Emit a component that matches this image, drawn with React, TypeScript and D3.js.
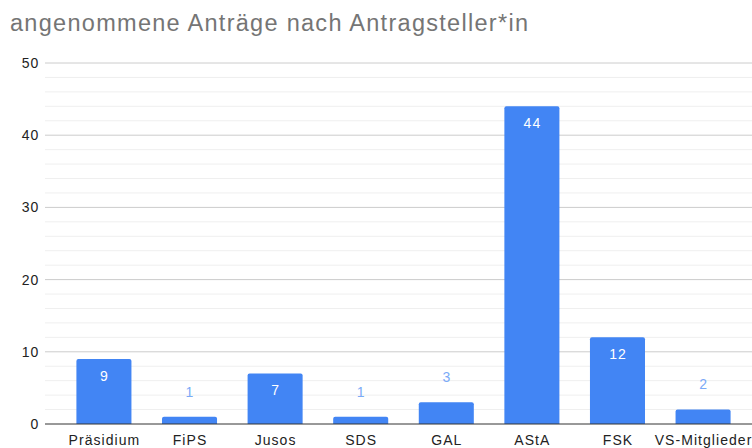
import React from 'react';
import * as d3 from 'd3';

const categories = ['Präsidium', 'FiPS', 'Jusos', 'SDS', 'GAL', 'AStA', 'FSK', 'VS-Mitglieder'];
const values = [9, 1, 7, 1, 3, 44, 12, 2];
const majorTicks = [0, 10, 20, 30, 40, 50];
const minorTicks = d3.range(0, 51, 2);

const W = 752;
const H = 448;
const FONT = '"Liberation Sans", Arial, sans-serif';

export default function App() {
  const x = d3.scaleBand<string>().domain(categories).range([61, 746]).paddingInner(0.357).paddingOuter(0.18);
  const y = d3.scaleLinear().domain([0, 50]).range([424, 63]);
  const gridLeft = 45;

  return (
    <svg width={W} height={H} style={{ position: 'absolute', left: 0, top: 0, background: '#fff' }}>
      <text x={10} y={31} fontFamily={FONT} fontSize={23.5} fill="#757575" textLength={518} lengthAdjust="spacing">
        angenommene Anträge nach Antragsteller*in
      </text>

      {minorTicks.filter((t) => t % 10 !== 0).map((t) => (
        <line key={'m' + t} x1={gridLeft} x2={W} y1={y(t)} y2={y(t)} stroke="#efefef" strokeWidth={1} />
      ))}
      {majorTicks.filter((t) => t !== 0).map((t) => (
        <line key={'M' + t} x1={gridLeft} x2={W} y1={y(t)} y2={y(t)} stroke="#cccccc" strokeWidth={1} />
      ))}
      {majorTicks.map((t) => (
        <text key={'l' + t} x={39} y={y(t)} dy="0.35em" textAnchor="end" fontFamily={FONT} fontSize={14} letterSpacing={0.8} fill="#222">
          {t}
        </text>
      ))}

      {categories.map((c, i) => {
        const v = values[i];
        const bx = x(c)!;
        const bw = x.bandwidth();
        const top = y(v);
        const h = y(0) - top;
        const inside = h > 30;
        return (
          <g key={c}>
            <path
              d={`M${bx},${y(0)} V${top + 2} Q${bx},${top} ${bx + 2},${top} H${bx + bw - 2} Q${bx + bw},${top} ${bx + bw},${top + 2} V${y(0)} Z`}
              fill="#4285f4"
            />
            <text
              x={bx + bw / 2 + 0.5}
              y={inside ? top + 17 : top - 25}
              dy="0.35em"
              textAnchor="middle"
              fontFamily={FONT}
              fontSize={14}
              letterSpacing={1}
              fill={inside ? '#ffffff' : '#7baaf7'}
            >
              {v}
            </text>
            <text x={bx + bw / 2 + 0.5} y={445} textAnchor="middle" fontFamily={FONT} fontSize={14} letterSpacing={1.05} fill="#222">
              {c}
            </text>
          </g>
        );
      })}

      <line x1={gridLeft} x2={W} y1={y(0)} y2={y(0)} stroke="#333" strokeWidth={1} />
    </svg>
  );
}
